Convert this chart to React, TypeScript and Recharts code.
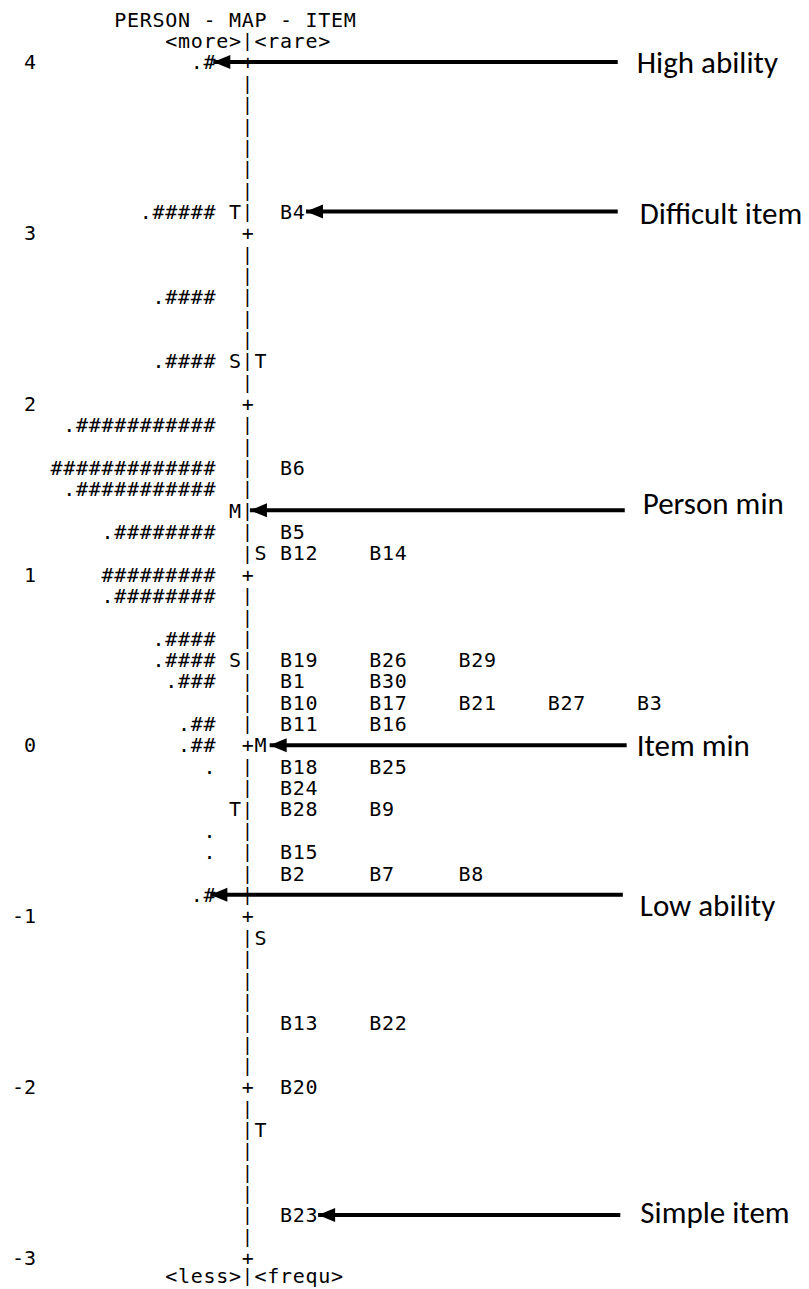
import { ScatterChart, Scatter, XAxis, YAxis } from 'recharts'

// Person-item (Wright) map on the logit scale, one text row per 1/8 logit
const logitTicks = [4, 3, 2, 1, 0, -1, -2, -3]

const personBars = [
  '.#', '.#####', '.####', '.####', '.###########', '#############', '.###########',
  '.########', '#########', '.########', '.####', '.####', '.###', '.##', '.##',
  '.', '.', '.', '.#',
]
const personMeasures = [
  4, 3.125, 2.625, 2.25, 1.875, 1.625, 1.5, 1.25, 1, 0.875, 0.625, 0.5, 0.375, 0.125, 0,
  -0.125, -0.5, -0.625, -0.875,
]

const itemLabels = [
  'B4', 'B6', 'B5', 'B12', 'B14', 'B19', 'B26', 'B29', 'B1', 'B30', 'B10', 'B17', 'B21', 'B27', 'B3',
  'B11', 'B16', 'B18', 'B25', 'B24', 'B28', 'B9', 'B15', 'B2', 'B7', 'B8', 'B13', 'B22', 'B20', 'B23',
]
const itemMeasures = [
  3.125, 1.625, 1.25, 1.125, 1.125, 0.5, 0.5, 0.5, 0.375, 0.375, 0.25, 0.25, 0.25, 0.25, 0.25,
  0.125, 0.125, -0.125, -0.125, -0.25, -0.375, -0.375, -0.625, -0.75, -0.75, -0.75, -1.625, -1.625, -2, -2.75,
]

const personMarkers = ['T', 'S', 'M', 'S', 'T']
const personMarkerMeasures = [3.125, 2.25, 1.375, 0.5, -0.375]
const itemMarkers = ['T', 'S', 'M', 'S', 'T']
const itemMarkerMeasures = [2.25, 1.125, 0, -1.125, -2.25]

const arrowLabels = ['High ability', 'Difficult item', 'Person min', 'Item min', 'Low ability', 'Simple item']
const arrowMeasures = [4, 3.125, 1.375, 0, -0.875, -2.75]

const ROW = 1 / 8
const TOP = 4
const BOTTOM = -3
const MONO = "'DejaVu Sans Mono', 'Liberation Mono', monospace"
const SANS = "Calibri, Carlito, 'Open Sans', sans-serif"

type Glyph = { x: number; y: number; text: string; ruler?: boolean; lift?: number }

function buildGlyphs(): Glyph[] {
  const g: Glyph[] = []
  // header / footer
  g.push({ x: -10.5, y: TOP + 2 * ROW, text: 'PERSON - MAP - ITEM' })
  g.push({ x: -6.5, y: TOP + ROW, text: '<more>' })
  g.push({ x: -0.5, y: TOP + ROW, text: '|', ruler: true })
  g.push({ x: 0.5, y: TOP + ROW, text: '<rare>' })
  g.push({ x: -6.5, y: BOTTOM - ROW, text: '<less>', lift: 3 })
  g.push({ x: -0.5, y: BOTTOM - ROW, text: '|', ruler: true, lift: 3 })
  g.push({ x: 0.5, y: BOTTOM - ROW, text: '<frequ>', lift: 3 })

  // the vertical ruler
  const rows = (TOP - BOTTOM) / ROW
  for (let r = 0; r <= rows; r++) {
    const v = TOP - r * ROW
    const isTick = Number.isInteger(v)
    g.push({ x: -0.5, y: v, text: isTick ? '+' : '|', ruler: !isTick })
  }

  personBars.forEach((s, i) => {
    g.push({ x: -2.5 - s.length, y: personMeasures[i], text: s })
  })
  personMarkers.forEach((m, i) => g.push({ x: -1.5, y: personMarkerMeasures[i], text: m }))
  itemMarkers.forEach((m, i) => g.push({ x: 0.5, y: itemMarkerMeasures[i], text: m }))

  const seen: Record<string, number> = {}
  itemLabels.forEach((lab, i) => {
    const key = String(itemMeasures[i])
    const idx = seen[key] ?? 0
    seen[key] = idx + 1
    g.push({ x: 2.5 + 7 * idx, y: itemMeasures[i], text: lab })
  })
  return g
}

const glyphs = buildGlyphs()

// arrow geometry (text columns) and label nudges in px
const arrowLayout = [
  { tip: -2.72, tail: 29.0, gap: 19, shift: 0 },
  { tip: 4.55, tail: 29.0, gap: 22, shift: 1.5 },
  { tip: 0.15, tail: 29.55, gap: 18, shift: -7 },
  { tip: 1.7, tail: 29.7, gap: 10, shift: 0 },
  { tip: -2.95, tail: 29.4, gap: 17, shift: 10 },
  { tip: 5.5, tail: 29.2, gap: 20, shift: -3 },
]

const renderGlyph = (props: any) => {
  const { cx, cy, payload } = props
  const ruler = payload.ruler
  return (
    <text
      x={ruler ? cx + 0.4 : cx}
      y={cy - (payload.lift ?? 0)}
      dy="0.36em"
      textAnchor="start"
      fontFamily={MONO}
      fontSize={ruler ? 18 : 20}
      letterSpacing={ruler ? 0 : 0.71}
      fill="#000"
      xmlSpace="preserve"
    >
      {payload.text}
    </text>
  )
}

const renderArrowEnd = (props: any) => {
  const { cx, cy, payload } = props
  if (payload.tip) {
    return <polygon points={`${cx},${cy} ${cx + 17},${cy - 7} ${cx + 17},${cy + 7}`} fill="#000" />
  }
  return (
    <text
      x={cx + payload.gap}
      y={cy + payload.shift}
      dy="0.35em"
      fontFamily={SANS}
      fontSize={31}
      fill="#000"
    >
      {payload.label}
    </text>
  )
}

export default function App() {
  return (
    <div style={{ position: 'absolute', left: 0, top: 0, background: '#fff' }}>
      <ScatterChart width={809} height={1289} margin={{ top: 19.3, right: 0, bottom: 10.05, left: 0 }}>
        <XAxis type="number" dataKey="x" domain={[-16, 44]} hide />
        <YAxis
          type="number"
          dataKey="y"
          domain={[BOTTOM - ROW, TOP + 2 * ROW]}
          ticks={logitTicks}
          interval={0}
          width={44}
          axisLine={false}
          tickLine={false}
          tick={{ fill: '#000', fontSize: 20, fontFamily: MONO }}
        />
        <Scatter data={glyphs} shape={renderGlyph} isAnimationActive={false} />
        {arrowLabels.map((label, i) => {
          const a = arrowLayout[i]
          return (
            <Scatter
              key={label}
              data={[
                { x: a.tail, y: arrowMeasures[i], label, gap: a.gap, shift: a.shift },
                { x: a.tip, y: arrowMeasures[i], tip: true },
              ]}
              line={{ stroke: '#000', strokeWidth: 4 }}
              shape={renderArrowEnd}
              isAnimationActive={false}
            />
          )
        })}
      </ScatterChart>
    </div>
  )
}
